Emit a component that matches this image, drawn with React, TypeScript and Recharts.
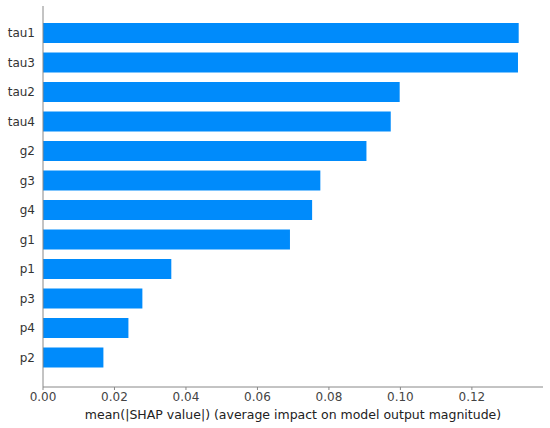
import { BarChart, Bar, XAxis, YAxis } from 'recharts';

const features = ['tau1', 'tau3', 'tau2', 'tau4', 'g2', 'g3', 'g4', 'g1', 'p1', 'p3', 'p4', 'p2'];
const meanShap = [0.1331, 0.1329, 0.0998, 0.0973, 0.0905, 0.0776, 0.0753, 0.0691, 0.0359, 0.0278, 0.0239, 0.0169];
const xTicks = [0, 0.02, 0.04, 0.06, 0.08, 0.1, 0.12];

const data = features.map((name, i) => ({ name, value: meanShap[i] }));

const font = 'DejaVu Sans, sans-serif';

export default function App() {
  return (
    <div style={{ position: 'absolute', left: 0, top: 0, background: '#fff' }}>
      <BarChart
        width={550}
        height={428}
        data={data}
        layout='vertical'
        margin={{ top: 6, right: 7, left: 0, bottom: 0 }}
      >
        <XAxis
          type='number'
          domain={[0, 0.1399]}
          ticks={xTicks}
          tickFormatter={(v) => v.toFixed(2)}
          height={41}
          stroke='#888'
          tickSize={3}
          tick={{ fill: '#444', fontSize: 12, fontFamily: font }}
          label={{
            value: 'mean(|SHAP value|) (average impact on model output magnitude)',
            position: 'insideBottom',
            offset: 9,
            fill: '#222',
            fontSize: 12.5,
            fontFamily: font,
          }}
        />
        <YAxis
          type='category'
          dataKey='name'
          width={43}
          stroke='#888'
          tickLine={false}
          tickSize={0}
          tickMargin={8}
          padding={{ top: 12, bottom: 15 }}
          tick={{ fill: '#333', fontSize: 12, fontFamily: font }}
        />
        <Bar dataKey='value' fill='#008bfb' barSize={20} isAnimationActive={false} />
      </BarChart>
    </div>
  );
}
